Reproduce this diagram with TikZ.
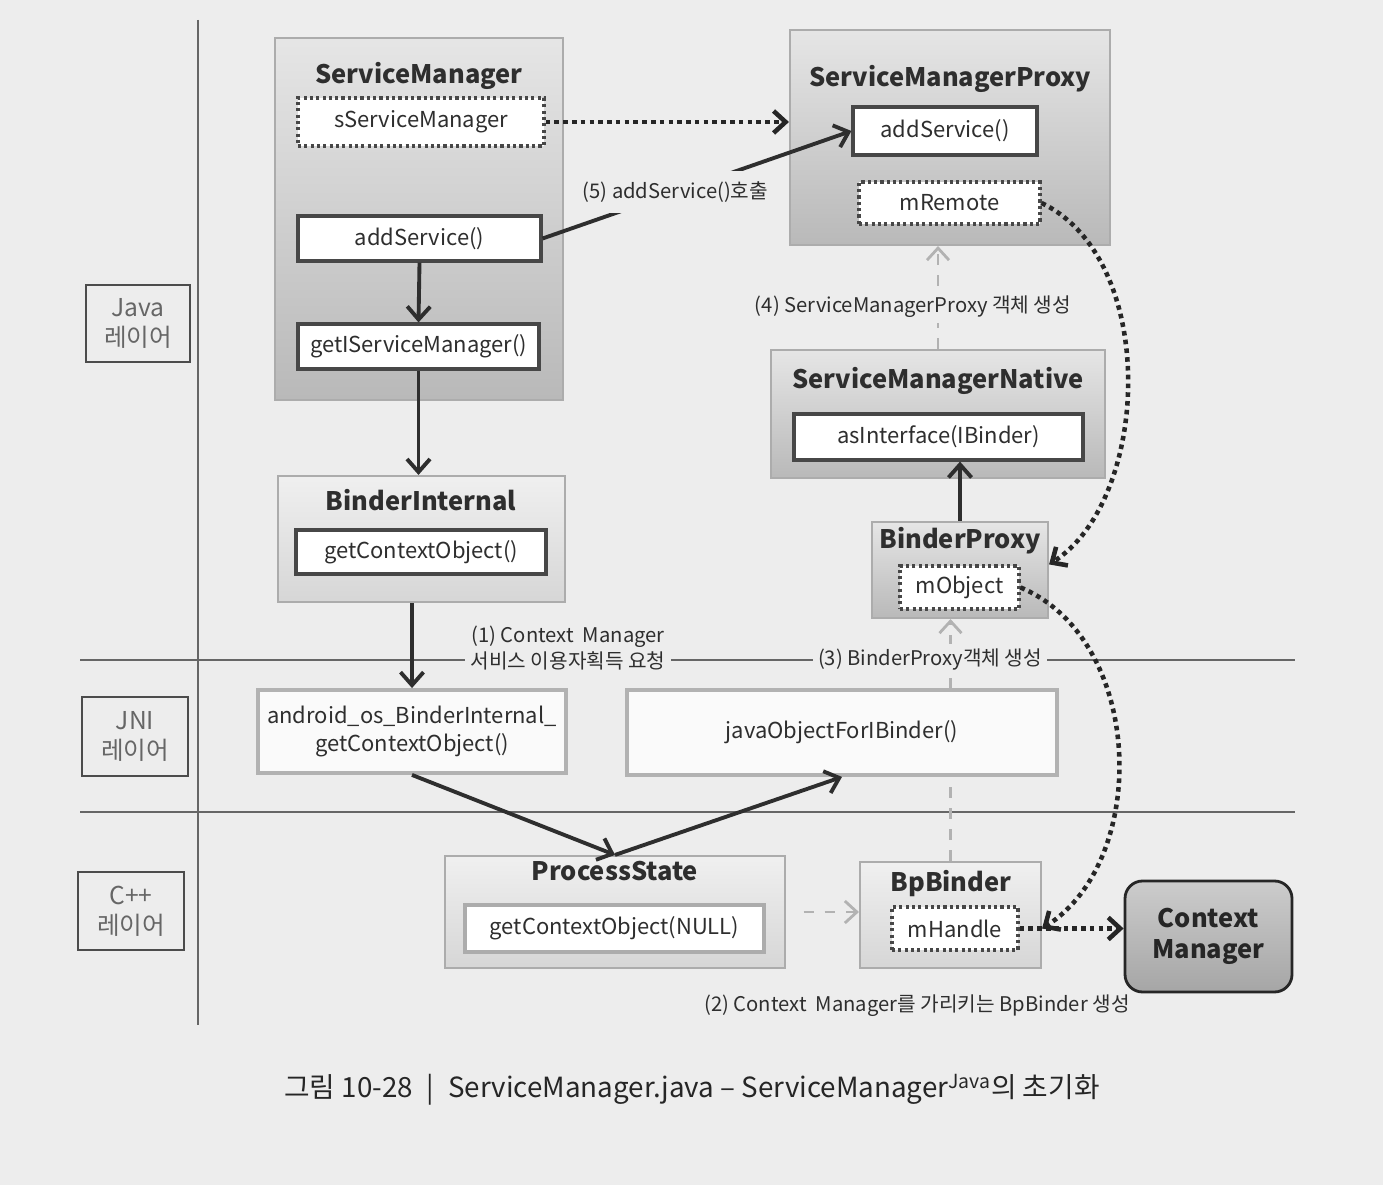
\documentclass[tikz,border=0pt]{standalone}
\usepackage{fontspec}
\setmainfont{Noto Sans CJK KR}
\usetikzlibrary{calc,fit,arrows.meta}

\definecolor{paper}{gray}{0.93}
\definecolor{ink}{gray}{0.18}

\tikzset{
  klass/.style={draw=gray!65, line width=1.2pt, top color=gray!20, bottom color=gray!55, inner sep=0pt},
  lightklass/.style={klass, top color=gray!12, bottom color=gray!32},
  klasstitle/.style={font=\fontsize{14.5}{17}\selectfont\bfseries, text=ink},
  boxtext/.style={align=center, text=ink, font=\fontsize{12.5}{16}\selectfont},
  method/.style={draw=black!72, line width=1.8pt, fill=white, inner sep=0pt},
  member/.style={method, dash pattern=on 1.8pt off 1.8pt},
  jni/.style={method, draw=gray!60, line width=2.2pt, fill=gray!4},
  layerbox/.style={draw=black!70, line width=1pt, inner sep=0pt},
  layertext/.style={align=center, text=black!60, font=\fontsize{14}{17}\selectfont},
  ctxbox/.style={draw=black!85, line width=1.6pt, rounded corners=0.35cm, top color=gray!40,
    bottom color=gray!70, inner sep=0pt},
  ctxtext/.style={align=center, text=black!85, font=\fontsize{14.5}{18}\selectfont\bfseries},
  call/.style={draw=ink, line width=2.2pt, -{Straight Barb[length=2.6mm,width=4.6mm]}},
  link/.style={draw=black!85, line width=2.6pt, dash pattern=on 2.6pt off 2.4pt,
    -{Straight Barb[length=2.4mm,width=4.4mm]}},
  create/.style={draw=gray!60, line width=1.6pt, dash pattern=on 6pt off 6pt,
    -{Straight Barb[length=2.4mm,width=4.4mm]}},
  steplabel/.style={fill=paper, inner sep=3pt, align=center, text=ink, font=\fontsize{11.5}{15}\selectfont},
  figcaption/.style={text=black!85, font=\fontsize{15.8}{18}\selectfont}
}

\begin{document}
\begin{tikzpicture}[x=0.02cm, y=-0.02cm]
  \useasboundingbox[fill=paper] (0,0) rectangle (1383,1185);

  % layer lines
  \draw[black!60, line width=0.9pt] (198,20) -- (198,1025);
  \draw[black!60, line width=0.9pt] (80,660) -- (1295,660);
  \draw[black!60, line width=0.9pt] (80,812) -- (1295,812);

  % layer names
  \node[layerbox, fit={(86,285) (190,362)}, label={[layertext]center:Java\\레이어}] (java) {};
  \node[layerbox, fit={(82,697) (188,776)}, label={[layertext]center:JNI\\레이어}] (jnilayer) {};
  \node[layerbox, fit={(78,872) (184,950)}, label={[layertext]center:C++\\레이어}] (cpp) {};

  % ServiceManager
  \node[klass, fit={(275,38) (563,400)}] (sm) {};
  \node[klasstitle] (smname) at (419,76) {ServiceManager};
  \node[member, fit={(298,98) (544,146)}, label={[boxtext]center:sServiceManager}] (ssm) {};
  \node[method, fit={(298,216) (541,261)}, label={[boxtext]center:addService()}] (smadd) {};
  \node[method, fit={(298,324) (539,369)}, label={[boxtext]center:getIServiceManager()}] (getism) {};

  % BinderInternal
  \node[lightklass, fit={(278,476) (565,602)}] (bi) {};
  \node[klasstitle] (biname) at (421,500) {BinderInternal};
  \node[method, fit={(296,530) (546,574)}, label={[boxtext]center:getContextObject()}] (gco) {};

  % ServiceManagerProxy
  \node[klass, fit={(790,30) (1110,245)}] (smp) {};
  \node[klasstitle] (smpname) at (950,79) {ServiceManagerProxy};
  \node[method, fit={(853,107) (1037,155)}, label={[boxtext]center:addService()}] (smpadd) {};
  \node[member, fit={(859,182) (1040,224)}, label={[boxtext]center:mRemote}] (mremote) {};

  % ServiceManagerNative
  \node[klass, fit={(771,350) (1105,478)}] (smn) {};
  \node[klasstitle] (smnname) at (938,381) {ServiceManagerNative};
  \node[method, fit={(794,414) (1083,460)}, label={[boxtext]center:asInterface(IBinder)}] (asif) {};

  % BinderProxy
  \node[klass, fit={(872,522) (1048,618)}] (bproxy) {};
  \node[klasstitle] (bproxyname) at (960,541) {BinderProxy};
  \node[member, fit={(900,566) (1019,609)}, label={[boxtext]center:mObject}] (mobject) {};

  % JNI
  \node[jni, fit={(258,690) (566,773)},
    label={[boxtext]center:android\_os\_BinderInternal\_\\getContextObject()}] (jnigco) {};
  \node[jni, fit={(627,690) (1057,775)}, label={[boxtext]center:javaObjectForIBinder()}] (jofib) {};

  % C++
  \node[lightklass, fit={(445,856) (785,968)}] (ps) {};
  \node[klasstitle] (psname) at (615,871) {ProcessState};
  \node[method, draw=gray!65, fit={(465,905) (764,952)},
    label={[boxtext]center:getContextObject(NULL)}] (psgco) {};
  \node[lightklass, fit={(860,862) (1041,968)}] (bpb) {};
  \node[klasstitle] (bpbname) at (951,884) {BpBinder};
  \node[member, fit={(892,907) (1018,950)}, label={[boxtext]center:mHandle}] (mhandle) {};
  \node[ctxbox, fit={(1125,881) (1292,992)}, label={[ctxtext]center:Context\\Manager}] (ctx) {};

  % calls
  \draw[link] (ssm.east) -- (ssm.east -| smp.west);
  \draw[call] (smadd.east) -- (smpadd.west)
    node[steplabel, pos=0.43, inner sep=6pt] (s5) {(5) addService()호출};
  \draw[call] (smadd.south) -- (getism.north);
  \draw[call] (getism.south) -- (getism.south |- bi.north);
  \draw[call] (jnigco.north |- bi.south) -- (jnigco.north);
  \draw[call] (jnigco.south) -- (ps.north);
  \draw[call] (ps.north) -- (jofib.south);
  \draw[call] (bproxy.north) -- (bproxy.north |- asif.south);

  % object creation
  \draw[create, shorten <=10pt] (ps.east) -- (ps.east -| bpb.west);
  \draw[create, -] (bpb.north) -- (bpb.north |- jofib.south);
  \draw[create] (bpb.north |- jofib.north) -- (bpb.north |- bproxy.south);
  \draw[create] (smn.north) -- (smn.north |- smp.south);

  % references
  \draw[link] (mremote.east) .. controls (1160,260) and (1150,500) .. (bproxy.east |- mobject.north);
  \draw[link] (mobject.east) .. controls (1145,640) and (1150,860) .. (bpb.east |- mhandle.east);
  \draw[link] (mhandle.east) -- (mhandle.east -| ctx.west);

  % step labels
  \node[steplabel] (s1) at (568,648) {(1) Context~ Manager\\서비스 이용자획득 요청};
  \node[steplabel] (s3) at (930,660) {(3) BinderProxy객체 생성};
  \node[steplabel] (s4) at (913,307) {(4) ServiceManagerProxy 객체 생성};
  \node[steplabel, fill=none] (s2) at (917,1006) {(2) Context~ Manager를 가리키는 BpBinder 생성};

  % caption
  \node[figcaption] (cap) at (692,1090)
    {그림 10-28 \;|\; ServiceManager.java – ServiceManager\textsuperscript{Java}의 초기화};
\end{tikzpicture}
\end{document}
